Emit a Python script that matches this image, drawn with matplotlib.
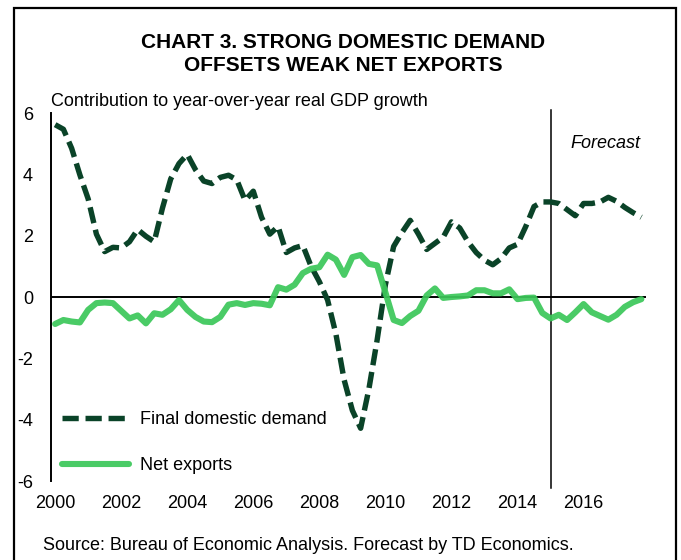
import matplotlib
matplotlib.use("Agg")
import matplotlib.pyplot as plt
from matplotlib.patches import Rectangle
import numpy as np

plt.rcParams['font.family'] = ['Liberation Sans', 'DejaVu Sans']

# ---- data (quarterly, 2000Q1 - 2017Q4) ----
years = list(range(2000, 2018))
quarters = [f"{y}Q{q}" for y in years for q in range(1, 5)]
tick_years = [2000, 2002, 2004, 2006, 2008, 2010, 2012, 2014, 2016]
forecast_start = "2015Q1"

final_domestic_demand = [
    5.62, 5.47, 4.85, 3.98, 3.2, 2.05, 1.48, 1.62, 1.6, 1.8,
    2.2, 1.98, 1.8, 2.9, 3.85, 4.35, 4.65, 4.15, 3.78, 3.7,
    3.9, 3.97, 3.82, 3.15, 3.45, 2.6, 2.05, 2.3, 1.45, 1.6,
    1.68, 1.0, 0.5, -0.1, -1.2, -2.7, -3.7, -4.28, -3.0, -1.4,
    0.4, 1.65, 2.1, 2.5, 2.05, 1.55, 1.75, 1.95, 2.45, 2.25,
    1.8, 1.45, 1.2, 1.05, 1.25, 1.6, 1.72, 2.3, 2.95, 3.1,
    3.1, 3.05, 2.85, 2.65, 3.05, 3.05, 3.1, 3.25, 3.12, 2.92,
    2.75, 2.6]

net_exports = [
    -0.88, -0.75, -0.8, -0.83, -0.42, -0.2, -0.18, -0.2, -0.45, -0.7,
    -0.6, -0.86, -0.53, -0.58, -0.4, -0.1, -0.42, -0.65, -0.8, -0.82,
    -0.65, -0.25, -0.2, -0.26, -0.2, -0.22, -0.27, 0.32, 0.24, 0.4,
    0.78, 0.92, 0.97, 1.38, 1.22, 0.72, 1.3, 1.37, 1.08, 1.03,
    0.15, -0.75, -0.85, -0.62, -0.45, 0.05, 0.28, -0.03, 0.0, 0.02,
    0.05, 0.22, 0.22, 0.12, 0.12, 0.25, -0.07, -0.03, -0.02, -0.52,
    -0.7, -0.58, -0.75, -0.5, -0.23, -0.5, -0.62, -0.74, -0.58, -0.32,
    -0.17, -0.07]

DARK = '#0a4328'
LIGHT = '#3cc75a'

W, H = 681, 560
fig = plt.figure(figsize=(W / 100, H / 100), dpi=100)
ax = fig.add_axes([51 / W, 1 - 481 / H, (645.5 - 51) / W, (481 - 113) / H])

x = np.arange(len(quarters))
ax.plot(x, final_domestic_demand, color=DARK, lw=3.9, dashes=(3.0, 1.25),
        dash_capstyle='butt', dash_joinstyle='round',
        label='Final domestic demand', zorder=3)
ax.plot(x, net_exports, color=LIGHT, lw=4.4, solid_capstyle='round',
        solid_joinstyle='round', alpha=0.93, label='Net exports', zorder=4)

ax.set_xlim(-0.5, len(quarters) - 0.5)
ax.set_ylim(-6, 6)
ax.set_yticks([-6, -4, -2, 0, 2, 4, 6])
ax.set_yticklabels(['-6', '-4', '-2', '0', '2', '4', '6'])
ax.set_xticks([quarters.index(f"{y}Q1") for y in tick_years])
ax.set_xticklabels([str(y) for y in tick_years])
ax.tick_params(axis='both', length=0, labelsize=13)
ax.tick_params(axis='y', pad=13)
ax.tick_params(axis='x', pad=10)

for s in ['top', 'right', 'bottom']:
    ax.spines[s].set_visible(False)
ax.spines['left'].set_linewidth(1.4)
ax.axhline(0, color='black', lw=1.4, zorder=2)
ax.axvline(quarters.index(forecast_start), ymin=-0.019, ymax=1.008,
           color='black', lw=1.1, clip_on=False, zorder=2)

leg = ax.legend(loc='upper left', bbox_to_anchor=(62 / W, 1 - 411 / H),
                bbox_transform=fig.transFigure, frameon=False, fontsize=13,
                handlelength=3.7, handletextpad=0.6, labelspacing=1.6,
                borderpad=0, borderaxespad=0)

fig.text(343 / W, 1 - 54 / H,
         "CHART 3. STRONG DOMESTIC DEMAND\nOFFSETS WEAK NET EXPORTS",
         ha='center', va='center', fontsize=15, fontweight='bold',
         linespacing=1.22)
fig.text(51 / W, 1 - 101 / H, "Contribution to year-over-year real GDP growth",
         ha='left', va='center', fontsize=13)
fig.text(570 / W, 1 - 143 / H, "Forecast", ha='left', va='center',
         fontsize=13, style='italic')
fig.text(43 / W, 1 - 545 / H,
         "Source: Bureau of Economic Analysis. Forecast by TD Economics.",
         ha='left', va='center', fontsize=13)

fig.patches.append(Rectangle((14 / W, -0.05), (676 - 14) / W, 0.05 + 1 - 8 / H,
                             transform=fig.transFigure, fill=False,
                             edgecolor='black', lw=1.6, clip_on=False))

fig.savefig('out.png', dpi=100)
